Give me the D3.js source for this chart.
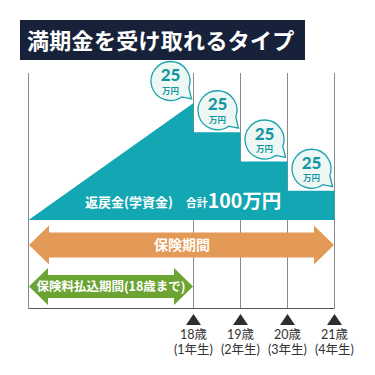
<!DOCTYPE html>
<html>
<head>
<meta charset="utf-8">
<script src="https://cdn.jsdelivr.net/npm/d3@7"></script>
<style>
  body { margin: 0; background: #fff; }
  svg { display: block; font-family: "Noto Sans CJK JP", "Noto Sans", sans-serif; }
  .mark text, .bubble text { font-family: Lato, "Noto Sans CJK JP", sans-serif; }
</style>
</head>
<body>
<div class="container"></div>
<script>
// chart values
var title = "満期金を受け取れるタイプ";
var payAges = [18, 19, 20, 21];
var payouts = [25, 25, 25, 25];
var ageLabels = ["18歳", "19歳", "20歳", "21歳"];
var gradeLabels = ["(1年生)", "(2年生)", "(3年生)", "(4年生)"];
var startAge = 0;
var premiumEndAge = 18;
var coverEndAge = 21;
var totalLabel = "返戻金(学資金)";
var totalPrefix = "合計";
var totalValue = "100万円";
var coverLabel = "保険期間";
var premiumLabel = "保険料払込期間(18歳まで)";

var opts = { width: 375, height: 375 };
var teal = "#13a6b3", orange = "#e39a56", green = "#6ca434", navy = "#17223a";

var svg = d3.select('.container').append('svg')
  .attr('width', opts.width).attr('height', opts.height);

// scales: age -> x, amount -> y
var x = d3.scaleLinear().domain([startAge, premiumEndAge, coverEndAge]).range([28.5, 193.5, 334.5]);
var total = d3.sum(payouts);
var y = d3.scaleLinear().domain([0, total]).range([220, 103]);

// title
svg.append('rect').attr('x', 20).attr('y', 20).attr('width', 285).attr('height', 40).attr('fill', navy);
svg.append('text').attr('x', 27).attr('y', 49).attr('fill', '#fff')
  .attr('font-size', 22).attr('font-weight', 700).attr('letter-spacing', 0.3).text(title);

// grid lines
var gridAges = [startAge].concat(payAges);
svg.selectAll('.grid').data(gridAges).enter().append('line')
  .attr('x1', function(d){ return x(d); }).attr('x2', function(d){ return x(d); })
  .attr('y1', 73).attr('y2', 308.5)
  .attr('stroke', '#8a8a8a').attr('stroke-width', 1);
svg.append('line').attr('x1', x(startAge)).attr('x2', x(coverEndAge))
  .attr('y1', 308.5).attr('y2', 308.5).attr('stroke', '#555').attr('stroke-width', 1.2);

// teal area: rise to the total, then step down at each payout
var pts = [[startAge, 0], [premiumEndAge, total]];
var remaining = total;
payAges.forEach(function(a, i){
  remaining -= payouts[i];
  pts.push([a, remaining]);
  if (i < payAges.length - 1) pts.push([payAges[i + 1], remaining]);
});
svg.append('path')
  .attr('d', d3.line().x(function(d){ return x(d[0]); }).y(function(d){ return y(d[1]); })(pts) + 'Z')
  .attr('fill', teal);

svg.append('text').attr('x', 85).attr('y', 207).attr('fill', '#fff').attr('font-weight', 700)
  .call(function(t){
    t.append('tspan').attr('font-size', 13).text(totalLabel);
    t.append('tspan').attr('dx', 13).attr('font-size', 11).text(totalPrefix);
    t.append('tspan').attr('font-size', 19.5).attr('dy', 1).text(totalValue);
  });

// speech bubbles
var levels = [];
var rem = total;
payouts.forEach(function(p){ levels.push(rem); rem -= p; });
var bubble = svg.selectAll('.bubble').data(payAges).enter().append('g').attr('class', 'bubble')
  .attr('transform', function(d, i){ return 'translate(' + (x(d) - 23) + ',' + (y(levels[i]) - 22) + ')'; });
bubble.append('path')
  .attr('d', function(){
    var r = 19.5;
    var a1 = 20 * Math.PI / 180, a2 = 55 * Math.PI / 180;
    return 'M' + (r * Math.cos(a2)) + ',' + (r * Math.sin(a2)) +
      ' A' + r + ',' + r + ' 0 1 1 ' + (r * Math.cos(a1)) + ',' + (r * Math.sin(a1)) +
      ' L21,18 Z';
  })
  .attr('fill', '#eef7f3').attr('stroke', '#1aa3ae').attr('stroke-width', 1.3);
bubble.append('text').attr('text-anchor', 'middle').attr('y', 0).attr('fill', '#1597a3')
  .attr('font-size', 17).attr('font-weight', 900).text(function(d, i){ return payouts[i]; });
bubble.append('text').attr('text-anchor', 'middle').attr('y', 12.5).attr('fill', '#1597a3')
  .attr('font-size', 8.5).attr('font-weight', 700).text('万円');

// double arrows
function arrow(a0, a1, cy, shaft, head, headLen, color, label, fs, tx) {
  var x0 = x(a0) + 0.5, x1 = x(a1) - 0.5;
  var d = 'M' + x0 + ',' + cy +
    'L' + (x0 + headLen) + ',' + (cy - head) + 'V' + (cy - shaft) +
    'H' + (x1 - headLen) + 'V' + (cy - head) + 'L' + x1 + ',' + cy +
    'L' + (x1 - headLen) + ',' + (cy + head) + 'V' + (cy + shaft) +
    'H' + (x0 + headLen) + 'V' + (cy + head) + 'Z';
  svg.append('path').attr('d', d).attr('fill', color);
  svg.append('text').attr('x', tx).attr('y', cy + fs * 0.37).attr('text-anchor', 'middle')
    .attr('fill', '#fff').attr('font-size', fs).attr('font-weight', 700).text(label);
}
arrow(startAge, coverEndAge, 245, 12.5, 19.5, 20, orange, coverLabel, 14, 182);
arrow(startAge, premiumEndAge, 286.5, 11.5, 18.5, 19, green, premiumLabel, 12.5, 111);

// age markers
var marks = svg.selectAll('.mark').data(payAges).enter().append('g').attr('class', 'mark')
  .attr('transform', function(d){ return 'translate(' + x(d) + ',0)'; });
marks.append('path').attr('d', 'M-7.5,325L0,314L7.5,325Z').attr('fill', '#2e2e2e');
marks.append('text').attr('text-anchor', 'middle').attr('y', 338.5).attr('fill', '#333')
  .attr('font-size', 12.5).text(function(d, i){ return ageLabels[i]; });
marks.append('text').attr('text-anchor', 'middle').attr('y', 354).attr('fill', '#333')
  .attr('font-size', 12.5).text(function(d, i){ return gradeLabels[i]; });
</script>
</body>
</html>
